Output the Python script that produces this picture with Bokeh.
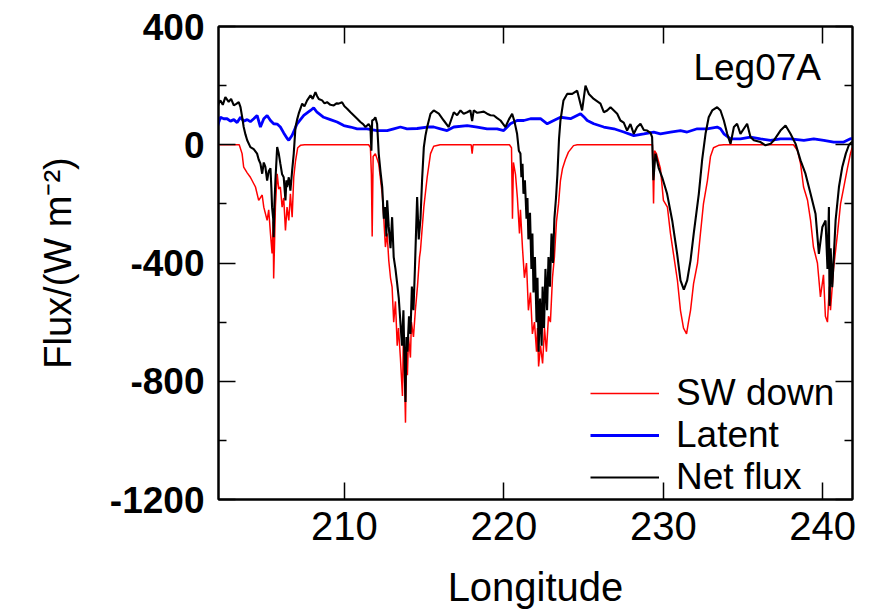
from bokeh.plotting import figure
from bokeh.models import Range1d, FixedTicker, LinearAxis, Label
from bokeh.embed import file_html
from bokeh.resources import INLINE

# ---------------- data ----------------
sw_lon = [202.05, 203.40, 203.58, 203.68, 203.90, 204.10, 204.42, 204.62, 204.84, 204.94,
          205.15, 205.25, 205.36, 205.46, 205.53, 205.56, 205.63, 205.67, 205.78, 205.88,
          205.98, 206.09, 206.19, 206.30, 206.40, 206.51, 206.61, 206.72, 206.82, 206.93,
          207.07, 207.24, 207.50, 211.52, 211.63, 211.69, 211.74, 211.80, 211.94, 212.15,
          212.37, 212.47, 212.57, 212.68, 212.78, 212.89, 212.99, 213.09, 213.20, 213.31,
          213.39, 213.51, 213.64, 213.70, 213.76, 213.83, 213.89, 213.95, 214.02, 214.14,
          214.20, 214.33, 214.45, 214.58, 214.71, 214.77, 214.98, 215.19, 215.40, 215.60,
          216.00, 217.95, 218.01, 218.07, 220.35, 220.48, 220.54, 220.60, 220.73, 220.85,
          220.98, 221.04, 221.17, 221.29, 221.42, 221.54, 221.67, 221.79, 221.92, 222.05,
          222.11, 222.18, 222.30, 222.43, 222.55, 222.67, 222.80, 222.92, 223.05, 223.17,
          223.30, 223.43, 223.55, 223.68, 223.86, 224.05, 224.37, 224.60, 229.32, 229.39,
          229.45, 229.57, 229.82, 230.01, 230.26, 230.45, 230.64, 230.89, 231.08, 231.27,
          231.46, 231.58, 231.71, 231.90, 232.15, 232.33, 232.52, 232.77, 232.96, 233.15,
          233.47, 233.80, 238.17, 238.42, 238.61, 238.80, 239.05, 239.24, 239.42, 239.67,
          239.86, 240.05, 240.17, 240.30, 240.42, 240.49, 240.68, 240.93, 241.12, 241.30,
          241.55, 241.74, 241.85]
sw_down = [0, 0, -30, -76, -95, -110, -143, -188, -170, -211,
           -256, -220, -301, -368, -260, -452, -300, -210, -98, -150,
           -143, -211, -180, -290, -211, -256, -166, -245, -110, -55,
           -10, -2, 0, 0, -10, -100, -310, -40, -30, -64,
           -166, -250, -346, -300, -391, -450, -482, -600, -530, -680,
           -620, -720, -850, -640, -760, -940, -700, -780, -650, -720,
           -600, -650, -560, -480, -380, -357, -211, -110, -30, -5,
           0, 0, -30, 0, 0, -10, -250, -60, -100, -180,
           -300, -220, -350, -450, -400, -560, -500, -640, -600, -700,
           -620, -750, -680, -740, -620, -700, -580, -600, -450, -380,
           -260, -200, -121, -80, -50, -25, -3, 0, 0, -199,
           -20, -30, -80, -188, -211, -300, -369, -460, -561, -620,
           -640, -600, -560, -470, -400, -301, -200, -121, -40, -10,
           -2, 0, 0, -20, -64, -143, -188, -256, -346, -400,
           -515, -440, -580, -600, -480, -560, -420, -300, -200, -150,
           -80, -30, -10]

lat_lon = [202.00, 202.11, 202.22, 202.43, 202.64, 202.85, 203.06, 203.27, 203.48, 203.68,
           203.90, 204.10, 204.31, 204.52, 204.73, 204.94, 205.15, 205.36, 205.56, 205.78,
           205.98, 206.19, 206.40, 206.51, 206.72, 207.03, 207.45, 207.87, 208.07, 208.28,
           208.70, 209.12, 209.54, 209.96, 210.38, 210.80, 211.42, 212.05, 212.68, 213.09,
           213.51, 213.93, 214.56, 215.19, 215.60, 216.02, 216.44, 216.86, 217.70, 218.33,
           218.95, 219.58, 219.99, 220.41, 220.83, 221.25, 221.67, 222.30, 222.72, 223.13,
           223.55, 224.18, 224.81, 225.01, 225.23, 225.64, 226.27, 226.90, 227.52, 228.15,
           228.78, 229.40, 229.82, 230.45, 231.08, 231.50, 232.13, 232.75, 233.38, 233.59,
           233.80, 234.22, 234.84, 235.47, 236.10, 236.73, 237.35, 237.98, 238.82, 239.44,
           240.07, 240.69, 241.32, 241.74, 241.85]
latent = [55, 75, 93, 88, 88, 80, 85, 75, 93, 80,
          85, 78, 88, 99, 60, 88, 99, 82, 71, 70,
          60, 40, 22, 15, 32, 71, 99, 116, 125, 110,
          93, 85, 77, 65, 60, 54, 54, 48, 48, 54,
          60, 54, 55, 60, 60, 54, 48, 60, 65, 60,
          54, 54, 48, 71, 82, 82, 88, 88, 71, 82,
          93, 88, 105, 95, 82, 71, 60, 54, 43, 31,
          37, 43, 37, 43, 48, 43, 54, 54, 60, 54,
          37, 20, 20, 26, 20, 15, 20, 20, 15, 20,
          15, 9, 9, 20, 22]

net_lon = [202.00, 202.11, 202.22, 202.37, 202.53, 202.74, 202.89, 203.06, 203.22, 203.37,
           203.48, 203.58, 203.68, 203.79, 203.90, 204.10, 204.31, 204.52, 204.62, 204.73,
           204.84, 204.94, 205.04, 205.15, 205.25, 205.36, 205.42, 205.46, 205.53, 205.56,
           205.61, 205.67, 205.78, 205.88, 205.98, 206.09, 206.19, 206.30, 206.36, 206.40,
           206.51, 206.61, 206.72, 206.82, 206.93, 207.03, 207.13, 207.35, 207.49, 207.66,
           207.87, 208.01, 208.18, 208.28, 208.39, 208.60, 208.75, 208.91, 209.12, 209.33,
           209.50, 209.64, 209.85, 210.00, 210.17, 210.38, 210.59, 210.80, 211.00, 211.17,
           211.32, 211.42, 211.52, 211.63, 211.69, 211.74, 211.84, 211.94, 212.05, 212.15,
           212.26, 212.37, 212.47, 212.57, 212.63, 212.68, 212.78, 212.89, 212.99, 213.09,
           213.20, 213.31, 213.41, 213.51, 213.61, 213.70, 213.76, 213.83, 213.89, 213.95,
           214.05, 214.14, 214.23, 214.33, 214.42, 214.56, 214.66, 214.77, 214.87, 214.98,
           215.08, 215.19, 215.40, 215.60, 215.92, 216.23, 216.54, 216.86, 217.07, 217.28,
           217.48, 217.70, 217.90, 218.01, 218.11, 218.33, 218.53, 218.74, 218.95, 219.16,
           219.37, 219.58, 219.79, 219.96, 220.10, 220.31, 220.52, 220.66, 220.83, 220.94,
           221.04, 221.10, 221.17, 221.23, 221.32, 221.42, 221.48, 221.54, 221.64, 221.73,
           221.79, 221.86, 221.95, 222.05, 222.11, 222.18, 222.27, 222.37, 222.43, 222.52,
           222.61, 222.71, 222.80, 222.89, 222.99, 223.08, 223.17, 223.27, 223.36, 223.46,
           223.55, 223.74, 223.97, 224.29, 224.60, 224.91, 225.12, 225.33, 225.64, 226.06,
           226.27, 226.48, 226.69, 227.11, 227.31, 227.52, 227.73, 227.94, 228.15, 228.36,
           228.57, 228.78, 228.99, 229.20, 229.30, 229.38, 229.51, 229.72, 229.93, 230.24,
           230.56, 230.87, 231.08, 231.29, 231.50, 231.71, 231.91, 232.23, 232.44, 232.65,
           232.85, 233.07, 233.38, 233.59, 233.80, 234.01, 234.22, 234.43, 234.63, 234.84,
           235.26, 235.47, 235.68, 236.10, 236.41, 236.73, 236.94, 237.35, 237.67, 237.98,
           238.30, 238.61, 238.92, 239.24, 239.55, 239.76, 239.98, 240.18, 240.30, 240.39,
           240.43, 240.50, 240.60, 240.81, 241.02, 241.23, 241.45, 241.65, 241.85]
net_flux = [116, 140, 150, 135, 161, 145, 155, 133, 138, 144,
            127, 95, 60, 35, 15, -8, -15, -30, -50, -64,
            -98, -60, -75, -121, -90, -80, -150, -211, -250, -313,
            -200, -121, -8, -30, -64, -100, -110, -188, -120, -143,
            -110, -155, -87, -30, 60, 85, 105, 139, 130, 150,
            167, 155, 178, 165, 155, 150, 140, 144, 135, 133,
            140, 139, 144, 130, 122, 110, 99, 88, 77, 70,
            60, 65, 70, 60, -20, 82, 85, 93, 70, -30,
            -90, -143, -250, -211, -310, -188, -278, -350, -245, -380,
            -420, -471, -520, -600, -680, -560, -720, -870, -650, -700,
            -580, -640, -480, -560, -420, -177, -320, -250, -120, -8,
            30, 60, 105, 116, 105, 82, 60, 110, 100, 116,
            105, 110, 116, 80, 116, 108, 110, 112, 105, 100,
            99, 90, 82, 70, 60, 85, 105, 80, 37, -20,
            -30, -110, -64, -166, -120, -250, -180, -320, -230, -420,
            -300, -500, -380, -600, -450, -700, -520, -680, -480, -620,
            -420, -560, -380, -480, -300, -400, -250, -180, -100, 20,
            82, 150, 172, 172, 183, 116, 200, 172, 155, 139,
            110, 116, 127, 105, 82, 75, 48, 70, 37, 60,
            71, 50, 48, 40, 26, -120, -30, -80, -110, -166,
            -256, -369, -459, -490, -459, -391, -301, -166, -50, 37,
            93, 116, 127, 116, 82, 37, 3, 60, 71, 37,
            71, 26, 15, 9, -2, 3, 15, 48, 65, 37,
            3, -53, -98, -166, -233, -369, -278, -256, -420, -211,
            -545, -350, -482, -256, -143, -75, -30, 0, 10]

x_ticks = [210, 220, 230, 240]
y_ticks = [-1200, -800, -400, 0, 400]
y_minor = [-1000, -600, -200, 200]
y_tick_labels = ["-1200", "-800", "-400", "0", "400"]
series_names = ["SW down", "Latent", "Net flux"]

FONT = "Liberation Sans"

# ---------------- figure ----------------
p = figure(width=874, height=616, output_backend="svg", toolbar_location=None,
           x_range=Range1d(202.1, 241.87), y_range=Range1d(-1200, 400),
           min_border_left=218, min_border_right=22, min_border_top=26,
           min_border_bottom=117)
p.xgrid.visible = False
p.ygrid.visible = False
p.outline_line_color = "black"
p.outline_line_width = 2
p.background_fill_color = "white"
p.border_fill_color = "white"

xt = FixedTicker(ticks=x_ticks, minor_ticks=[])
yt = FixedTicker(ticks=y_ticks, minor_ticks=y_minor)


def style_axis(ax, ticker, show_labels):
    ax.ticker = ticker
    ax.axis_line_color = "black"
    ax.axis_line_width = 2
    ax.major_tick_in = 17
    ax.major_tick_out = 0
    ax.minor_tick_in = 8
    ax.minor_tick_out = 0
    ax.major_tick_line_width = 1.5
    ax.minor_tick_line_width = 1.5
    ax.major_tick_line_color = "black"
    ax.minor_tick_line_color = "black"
    if not show_labels:
        ax.major_label_text_color = None
        ax.major_label_text_font_size = "1px"
        ax.major_label_standoff = 0


xa = p.xaxis[0]
style_axis(xa, xt, True)
xa.major_label_text_font = FONT
xa.major_label_text_font_size = "40px"
xa.major_label_text_color = "black"
xa.major_label_standoff = 12
xa.axis_label = "Longitude"
xa.axis_label_text_font = FONT
xa.axis_label_text_font_size = "40px"
xa.axis_label_text_font_style = "normal"
xa.axis_label_text_color = "black"
xa.axis_label_standoff = 22

ya = p.yaxis[0]
style_axis(ya, yt, True)
ya.major_label_text_font = FONT
ya.major_label_text_font_size = "37px"
ya.major_label_text_font_style = "bold"
ya.major_label_text_color = "black"
ya.major_label_standoff = 14
ya.major_label_overrides = {t: s for t, s in zip(y_ticks, y_tick_labels)}
ya.axis_label = "Flux/(W m\u207b\u00b2)"
ya.axis_label_text_font = FONT
ya.axis_label_text_font_size = "38px"
ya.axis_label_text_font_style = "normal"
ya.axis_label_text_color = "black"
ya.axis_label_standoff = 28

top = LinearAxis()
style_axis(top, FixedTicker(ticks=x_ticks, minor_ticks=[]), False)
p.add_layout(top, "above")
right = LinearAxis()
style_axis(right, FixedTicker(ticks=y_ticks, minor_ticks=y_minor), False)
p.add_layout(right, "right")

# ---------------- series ----------------
p.line(sw_lon, sw_down, line_color="#ff0000", line_width=1.5, legend_label=series_names[0])
p.line(lat_lon, latent, line_color="#0000ff", line_width=2.8, legend_label=series_names[1])
p.line(net_lon, net_flux, line_color="black", line_width=2.1, legend_label=series_names[2])

lg = p.legend[0]
lg.location = (372, 1)
lg.border_line_color = None
lg.background_fill_alpha = 0
lg.padding = 0
lg.margin = 0
lg.spacing = 0
lg.glyph_width = 69
lg.glyph_height = 42
lg.label_height = 42
lg.label_standoff = 17
lg.label_text_font = FONT
lg.label_text_font_size = "37px"
lg.label_text_color = "black"

# ---------------- texts ----------------
p.add_layout(Label(x=231.89, y=261.5, text="Leg07A", text_font=FONT,
                   text_font_size="37px", text_align="left",
                   text_baseline="alphabetic", text_color="black"))

open("out.html", "w").write(file_html(p, INLINE))
